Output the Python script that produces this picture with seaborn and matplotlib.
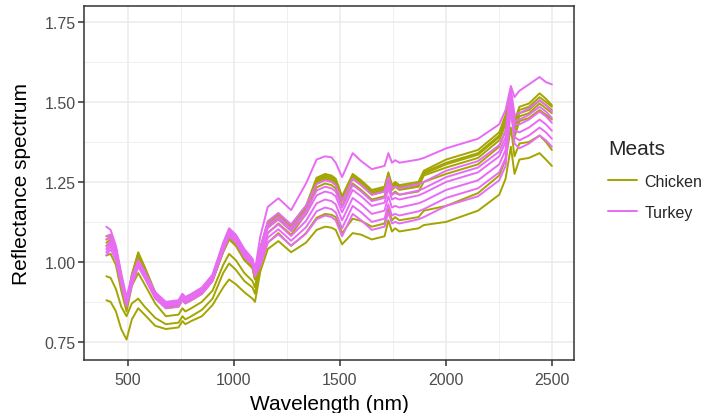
import pandas as pd
import matplotlib
matplotlib.use("Agg")
import matplotlib.pyplot as plt
from matplotlib.lines import Line2D
import seaborn as sns

wavelengths = [400, 420, 445, 470, 495, 520, 550, 580, 630, 680, 740, 758, 772, 800, 850,
               900, 950, 978, 1010, 1050, 1088, 1100,
               1125, 1160, 1210, 1270, 1340, 1390, 1430, 1460, 1480, 1510, 1560, 1600, 1650,
               1710, 1728, 1745, 1760, 1780, 1870, 1895, 2000, 2150, 2250, 2280, 2305, 2322,
               2345, 2390, 2440, 2470, 2498]

chicken_1 = [0.88, 0.875, 0.845, 0.79, 0.757, 0.82, 0.855, 0.835, 0.80, 0.79, 0.795, 0.815, 0.805, 0.815, 0.83,
             0.865, 0.92, 0.945, 0.93, 0.905, 0.885, 0.875,
             0.97, 1.04, 1.065, 1.03, 1.06, 1.10, 1.11, 1.107, 1.10, 1.055, 1.09, 1.085, 1.07,
             1.08, 1.13, 1.095, 1.105, 1.095, 1.105, 1.115, 1.125, 1.16, 1.21, 1.26, 1.36, 1.275,
             1.32, 1.325, 1.34, 1.32, 1.30]
chicken_2 = [0.955, 0.95, 0.915, 0.86, 0.83, 0.87, 0.885, 0.86, 0.825, 0.805, 0.81, 0.83, 0.82, 0.83, 0.85,
             0.885, 0.965, 0.995, 0.975, 0.94, 0.92, 0.90,
             0.99, 1.06, 1.09, 1.05, 1.09, 1.138, 1.15, 1.147, 1.14, 1.09, 1.135, 1.128, 1.11,
             1.12, 1.165, 1.13, 1.14, 1.13, 1.14, 1.16, 1.175, 1.215, 1.27, 1.32, 1.42, 1.33,
             1.37, 1.375, 1.395, 1.375, 1.35]
chicken_3 = [1.02, 1.025, 0.99, 0.91, 0.845, 0.925, 0.965, 0.93, 0.87, 0.83, 0.835, 0.855, 0.845, 0.855, 0.875,
             0.91, 0.99, 1.025, 1.005, 0.965, 0.94, 0.92,
             1.01, 1.09, 1.12, 1.085, 1.15, 1.233, 1.245, 1.24, 1.23, 1.175, 1.245, 1.225, 1.195,
             1.205, 1.25, 1.21, 1.22, 1.21, 1.22, 1.25, 1.275, 1.305, 1.36, 1.41, 1.48, 1.39,
             1.44, 1.45, 1.475, 1.46, 1.445]
chicken_4 = [1.05, 1.06, 1.02, 0.935, 0.86, 0.95, 1.015, 0.975, 0.895, 0.855, 0.86, 0.88, 0.87, 0.88, 0.90,
             0.94, 1.035, 1.075, 1.055, 1.01, 0.985, 0.945,
             1.03, 1.11, 1.135, 1.10, 1.16, 1.248, 1.26, 1.255, 1.245, 1.19, 1.26, 1.24, 1.21,
             1.22, 1.265, 1.225, 1.235, 1.225, 1.235, 1.27, 1.295, 1.325, 1.38, 1.43, 1.49, 1.41,
             1.455, 1.465, 1.495, 1.48, 1.465]
chicken_5 = [1.06, 1.07, 1.03, 0.945, 0.862, 0.955, 1.02, 0.98, 0.90, 0.857, 0.862, 0.882, 0.872, 0.882, 0.902,
             0.942, 1.03, 1.07, 1.05, 1.005, 0.98, 0.945,
             1.035, 1.115, 1.14, 1.105, 1.165, 1.253, 1.265, 1.26, 1.25, 1.195, 1.265, 1.245, 1.215,
             1.225, 1.27, 1.23, 1.24, 1.23, 1.24, 1.275, 1.305, 1.335, 1.39, 1.44, 1.50, 1.42,
             1.465, 1.475, 1.505, 1.49, 1.475]
chicken_6 = [1.08, 1.085, 1.045, 0.955, 0.868, 0.96, 1.025, 0.982, 0.902, 0.858, 0.863, 0.883, 0.873, 0.883, 0.903,
             0.943, 1.032, 1.072, 1.052, 1.008, 0.983, 0.948,
             1.04, 1.12, 1.145, 1.11, 1.17, 1.258, 1.27, 1.265, 1.255, 1.20, 1.27, 1.25, 1.22,
             1.23, 1.275, 1.235, 1.245, 1.235, 1.245, 1.28, 1.31, 1.34, 1.395, 1.45, 1.51, 1.43,
             1.475, 1.485, 1.515, 1.50, 1.485]
chicken_7 = [1.07, 1.08, 1.04, 0.95, 0.865, 0.96, 1.03, 0.985, 0.905, 0.86, 0.865, 0.885, 0.875, 0.885, 0.905,
             0.945, 1.035, 1.075, 1.055, 1.01, 0.985, 0.95,
             1.045, 1.125, 1.15, 1.115, 1.175, 1.263, 1.275, 1.27, 1.26, 1.205, 1.275, 1.255, 1.225,
             1.235, 1.28, 1.24, 1.25, 1.24, 1.25, 1.285, 1.32, 1.35, 1.405, 1.46, 1.52, 1.44,
             1.485, 1.495, 1.527, 1.51, 1.49]

turkey_1 = [1.11, 1.10, 1.05, 0.965, 0.89, 0.955, 1.005, 0.97, 0.905, 0.875, 0.88, 0.90, 0.89, 0.90, 0.92,
            0.96, 1.06, 1.105, 1.085, 1.04, 1.01, 0.975,
            1.08, 1.172, 1.199, 1.162, 1.245, 1.32, 1.33, 1.327, 1.31, 1.265, 1.34, 1.315, 1.29,
            1.30, 1.34, 1.31, 1.318, 1.31, 1.32, 1.325, 1.355, 1.385, 1.43, 1.475, 1.55, 1.515,
            1.535, 1.555, 1.578, 1.562, 1.555]
turkey_2 = [1.08, 1.085, 1.04, 0.955, 0.88, 0.945, 1.005, 0.97, 0.905, 0.872, 0.878, 0.898, 0.888, 0.898, 0.918,
            0.958, 1.055, 1.10, 1.08, 1.035, 1.008, 0.972,
            1.043, 1.127, 1.153, 1.117, 1.176, 1.243, 1.255, 1.25, 1.24, 1.19, 1.26, 1.24, 1.21,
            1.22, 1.265, 1.23, 1.235, 1.23, 1.243, 1.25, 1.285, 1.315, 1.365, 1.41, 1.54, 1.46,
            1.465, 1.48, 1.505, 1.49, 1.47]
turkey_3 = [1.07, 1.075, 1.03, 0.95, 0.875, 0.94, 1.00, 0.965, 0.90, 0.87, 0.875, 0.895, 0.885, 0.895, 0.915,
            0.955, 1.05, 1.095, 1.075, 1.03, 1.005, 0.97,
            1.033, 1.115, 1.141, 1.105, 1.16, 1.223, 1.235, 1.23, 1.22, 1.17, 1.24, 1.22, 1.19,
            1.20, 1.245, 1.21, 1.215, 1.21, 1.223, 1.23, 1.265, 1.295, 1.345, 1.39, 1.53, 1.44,
            1.445, 1.46, 1.485, 1.47, 1.45]
turkey_4 = [1.05, 1.065, 1.025, 0.945, 0.87, 0.935, 0.995, 0.96, 0.895, 0.865, 0.87, 0.89, 0.88, 0.89, 0.91,
            0.95, 1.045, 1.09, 1.07, 1.025, 1.0, 0.965,
            1.025, 1.106, 1.132, 1.096, 1.148, 1.208, 1.22, 1.215, 1.205, 1.155, 1.225, 1.205, 1.175,
            1.185, 1.23, 1.195, 1.20, 1.195, 1.208, 1.215, 1.25, 1.28, 1.33, 1.375, 1.52, 1.43,
            1.43, 1.445, 1.47, 1.455, 1.435]
turkey_5 = [1.04, 1.06, 1.02, 0.94, 0.868, 0.932, 0.99, 0.957, 0.892, 0.862, 0.867, 0.887, 0.877, 0.887, 0.907,
            0.947, 1.04, 1.085, 1.065, 1.02, 0.995, 0.96,
            1.013, 1.091, 1.117, 1.081, 1.128, 1.183, 1.195, 1.19, 1.18, 1.13, 1.20, 1.18, 1.15,
            1.16, 1.205, 1.17, 1.175, 1.17, 1.183, 1.19, 1.225, 1.255, 1.305, 1.35, 1.51, 1.41,
            1.405, 1.42, 1.445, 1.43, 1.41]
turkey_6 = [1.03, 1.05, 1.02, 0.945, 0.872, 0.94, 0.998, 0.963, 0.898, 0.868, 0.873, 0.893, 0.883, 0.893, 0.913,
            0.953, 1.05, 1.10, 1.08, 1.035, 1.005, 0.968,
            1.0, 1.076, 1.102, 1.066, 1.108, 1.158, 1.17, 1.165, 1.155, 1.105, 1.175, 1.155, 1.125,
            1.135, 1.18, 1.145, 1.15, 1.145, 1.158, 1.165, 1.20, 1.23, 1.28, 1.325, 1.50, 1.39,
            1.38, 1.395, 1.42, 1.405, 1.385]
turkey_7 = [1.02, 1.04, 1.005, 0.93, 0.862, 0.925, 0.985, 0.95, 0.885, 0.855, 0.86, 0.88, 0.87, 0.88, 0.90,
            0.94, 1.035, 1.08, 1.06, 1.015, 0.99, 0.955,
            0.988, 1.061, 1.086, 1.051, 1.088, 1.133, 1.145, 1.14, 1.13, 1.08, 1.15, 1.13, 1.10,
            1.11, 1.155, 1.12, 1.125, 1.12, 1.133, 1.14, 1.175, 1.205, 1.255, 1.30, 1.48, 1.37,
            1.355, 1.37, 1.395, 1.38, 1.36]

chicken = [chicken_1, chicken_2, chicken_3, chicken_4, chicken_5, chicken_6, chicken_7]
turkey = [turkey_1, turkey_2, turkey_3, turkey_4, turkey_5, turkey_6, turkey_7]

rows = []
for meat, curves in [("Chicken", chicken), ("Turkey", turkey)]:
    for i, curve in enumerate(curves):
        assert len(curve) == len(wavelengths), (meat, i, len(curve))
        for wl, val in zip(wavelengths, curve):
            rows.append((meat, f"{meat}_{i + 1}", wl, val))
df = pd.DataFrame(rows, columns=["Meats", "sample", "Wavelength", "Reflectance"])

palette = {"Chicken": "#A3A500", "Turkey": "#E76BF3"}

sns.set_style("white")
plt.rcParams["font.family"] = ["Liberation Sans", "DejaVu Sans"]

fig = plt.figure(figsize=(7.13, 4.14), dpi=100)
ax = fig.add_axes([0.1182, 0.1287, 0.6868, 0.8543])

sns.lineplot(data=df, x="Wavelength", y="Reflectance", hue="Meats", units="sample",
             estimator=None, sort=False, palette=palette, linewidth=1.4,
             legend=False, ax=ax)

ax.set_xlim(296, 2602)
ax.set_ylim(0.694, 1.80)
ax.set_xticks([500, 1000, 1500, 2000, 2500])
ax.set_xticks([750, 1250, 1750, 2250], minor=True)
ax.set_yticks([0.75, 1.0, 1.25, 1.5, 1.75])
ax.set_yticklabels(["0.75", "1.00", "1.25", "1.50", "1.75"])
ax.set_yticks([0.875, 1.125, 1.375, 1.625], minor=True)

ax.set_axisbelow(True)
ax.grid(which="major", color="#EBEBEB", linewidth=1.1)
ax.grid(which="minor", color="#EBEBEB", linewidth=0.55)
for s in ax.spines.values():
    s.set_color("#333333")
    s.set_linewidth(1.1)
ax.tick_params(which="major", length=4, width=1.1, color="#333333",
               labelsize=11.5, labelcolor="#4D4D4D", bottom=True, left=True)
ax.tick_params(axis="x", which="major", pad=5)
ax.tick_params(axis="y", which="major", pad=2)
ax.tick_params(which="minor", length=0)

ax.set_xlabel("Wavelength (nm)", fontsize=15, color="black", labelpad=5)
ax.set_ylabel("Reflectance spectrum", fontsize=15, color="black", labelpad=10)

handles = [Line2D([], [], color=palette[m], linewidth=1.4) for m in ["Chicken", "Turkey"]]
leg = ax.legend(handles, ["Chicken", "Turkey"], title="Meats", loc="center left",
                bbox_to_anchor=(0.853, 0.565), bbox_transform=fig.transFigure,
                frameon=False, fontsize=11.5, title_fontsize=15,
                borderpad=0, borderaxespad=0,
                handlelength=1.8, handletextpad=0.45, labelspacing=1.0,
                alignment="left")

fig.savefig("out.png", dpi=100)
